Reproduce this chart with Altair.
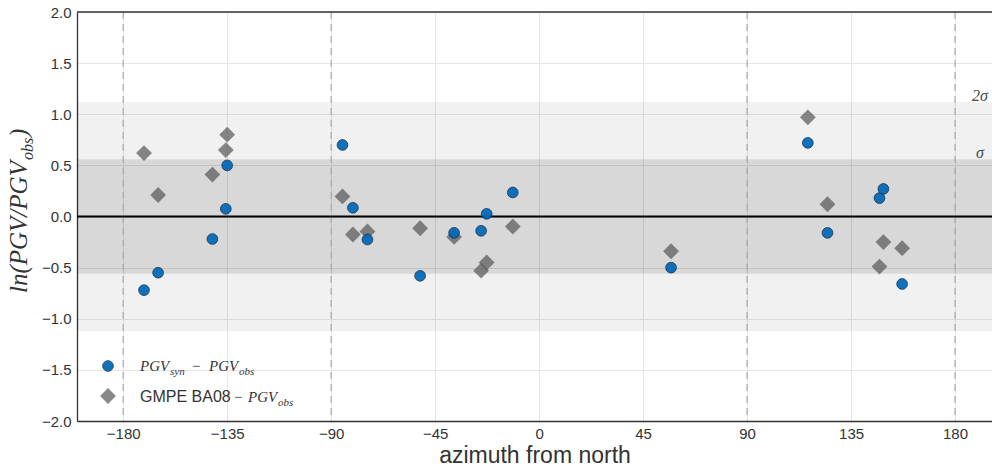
import altair as alt
import pandas as pd

# ---- data ----
azimuth = [-171.0, -164.9, -141.4, -135.6, -135.0, -85.1, -80.6, -74.3, -51.5,
           -36.8, -25.1, -22.7, -11.4, 57.1, 116.3, 124.8, 147.3, 149.0, 157.1]
res_syn = [-0.72, -0.55, -0.22, 0.075, 0.50, 0.70, 0.085, -0.225, -0.58,
           -0.16, -0.14, 0.026, 0.235, -0.50, 0.72, -0.16, 0.18, 0.27, -0.66]
res_gmpe = [0.62, 0.21, 0.41, 0.65, 0.80, 0.196, -0.176, -0.147, -0.115,
            -0.20, -0.53, -0.45, -0.098, -0.34, 0.97, 0.12, -0.49, -0.25, -0.31]
sigma = 0.56
x_ticks = [-180, -135, -90, -45, 0, 45, 90, 135, 180]
y_ticks = [-2.0, -1.5, -1.0, -0.5, 0.0, 0.5, 1.0, 1.5, 2.0]
dashed_az = [-180, -90, 90, 180]

W, H = 915, 409
XD = [-200, 196]
YD = [-2, 2]

df = pd.DataFrame({"az": azimuth, "syn": res_syn, "gmpe": res_gmpe})
bands = pd.DataFrame({"lo": [-2 * sigma, -sigma], "hi": [2 * sigma, sigma],
                      "op": [0.055, 0.10]})
dash_df = pd.DataFrame({"az": dashed_az})
sig_df = pd.DataFrame({"y": [2 * sigma, sigma], "lab": ["2σ", "σ"]})

xs = alt.Scale(domain=XD, nice=False, zero=False)
ys = alt.Scale(domain=YD, nice=False, zero=False)

AX_COL = "#333333"
xaxis = alt.Axis(values=x_ticks, ticks=False, labelFontSize=15, labelColor=AX_COL,
                 labelFont="Liberation Sans", domainColor=AX_COL, domainWidth=1.3,
                 gridColor="#e6e6e6", gridWidth=1, labelPadding=5,
                 title="azimuth from north", titleFontSize=23, titleFont="Liberation Sans",
                 titleFontWeight="normal", titleColor=AX_COL, titlePadding=3)
yaxis = alt.Axis(values=y_ticks, format=".1f", ticks=False, labelFontSize=15,
                 labelColor=AX_COL, labelFont="Liberation Sans", domainColor=AX_COL,
                 domainWidth=1.3, gridColor="#e6e6e6", gridWidth=1, labelPadding=6,
                 title=None)

base = alt.Chart(df)

band_layer = alt.Chart(bands).mark_rect(color="black").encode(
    y=alt.Y("lo:Q", scale=ys, axis=yaxis),
    y2="hi:Q",
    x=alt.value(0), x2=alt.value(W),
    opacity=alt.Opacity("op:Q", scale=None, legend=None),
)

axis_anchor = alt.Chart(dash_df).mark_rule(
    color="#a8a8a8", strokeDash=[7, 5], strokeWidth=1.2
).encode(
    x=alt.X("az:Q", scale=xs, axis=xaxis),
    y=alt.value(0), y2=alt.value(H),
)

zero_line = alt.Chart(pd.DataFrame({"v": [0.0]})).mark_rule(
    color="black", strokeWidth=2
).encode(y=alt.Y("v:Q", scale=ys), x=alt.value(0), x2=alt.value(W))

top_line = alt.Chart(pd.DataFrame({"v": [2.0]})).mark_rule(
    color=AX_COL, strokeWidth=1.3
).encode(y=alt.Y("v:Q", scale=ys), x=alt.value(0), x2=alt.value(W))

diamonds = base.mark_point(shape="diamond", filled=True, size=250,
                           color="#555555", opacity=0.7).encode(
    x=alt.X("az:Q", scale=xs), y=alt.Y("gmpe:Q", scale=ys))

circles = base.mark_point(shape="circle", filled=True, size=115, color="#0068b8",
                          opacity=0.93, stroke="#0d2a45", strokeWidth=0.8).encode(
    x=alt.X("az:Q", scale=xs), y=alt.Y("syn:Q", scale=ys))

sig_labels = alt.Chart(sig_df).mark_text(
    font="Liberation Serif", fontStyle="italic", fontSize=16, color="#444444",
    align="center", baseline="middle", dy=-6
).encode(y=alt.Y("y:Q", scale=ys), x=alt.value(903), text="lab:N")


def piece(txt, x, y, dx=0, dy=0, size=15, italic=True, font="Liberation Serif",
          angle=0, color="#333333"):
    kw = dict(font=font, fontSize=size, color=color, align="left",
              baseline="alphabetic", dx=dx, dy=dy, angle=angle)
    if italic:
        kw["fontStyle"] = "italic"
    return alt.Chart(pd.DataFrame({"t": [txt]})).mark_text(**kw).encode(
        x=alt.value(x), y=alt.value(y), text="t:N")


# legend
leg_marks = [
    alt.Chart(pd.DataFrame({"k": [0]})).mark_point(
        shape="circle", filled=True, size=115, color="#0068b8", opacity=0.93,
        stroke="#0d2a45", strokeWidth=0.8).encode(x=alt.value(31), y=alt.value(354)),
    alt.Chart(pd.DataFrame({"k": [0]})).mark_point(
        shape="diamond", filled=True, size=250, color="#555555",
        opacity=0.7).encode(x=alt.value(31), y=alt.value(384)),
]
r1x, r1y = 63, 359
r2x, r2y = 63, 390
leg_text = [
    piece("PGV", r1x, r1y, size=15),
    piece("syn", r1x, r1y, dx=30, dy=4, size=11),
    piece("−", r1x, r1y, dx=52, size=15, italic=False),
    piece("PGV", r1x, r1y, dx=69, size=15),
    piece("obs", r1x, r1y, dx=99, dy=4, size=11),
    piece("GMPE BA08", r2x, r2y, size=16, italic=False, font="Liberation Sans"),
    piece("−", r2x, r2y, dx=94, size=15, italic=False),
    piece("PGV", r2x, r2y, dx=108, size=15),
    piece("obs", r2x, r2y, dx=138, dy=4, size=11),
]

# y-axis title (rotated, composed)
tx, ty = -50, 281
ytitle = [
    piece("ln(PGV/PGV", tx, ty, size=25, angle=270),
    piece("obs", tx, ty, dx=133, dy=6, size=16, angle=270),
    piece(")", tx, ty, dx=156, size=25, angle=270),
]

chart = alt.layer(
    band_layer, axis_anchor, zero_line, top_line, diamonds, circles, sig_labels,
    *leg_marks, *leg_text, *ytitle
).properties(
    width=W, height=H,
    autosize=alt.AutoSizeParams(type="none"),
    padding={"left": 77, "top": 12, "right": 0, "bottom": 51},
).configure_view(stroke=None).configure(background="white")

chart.save("out.html", embed_options={"renderer": "svg", "actions": False})
